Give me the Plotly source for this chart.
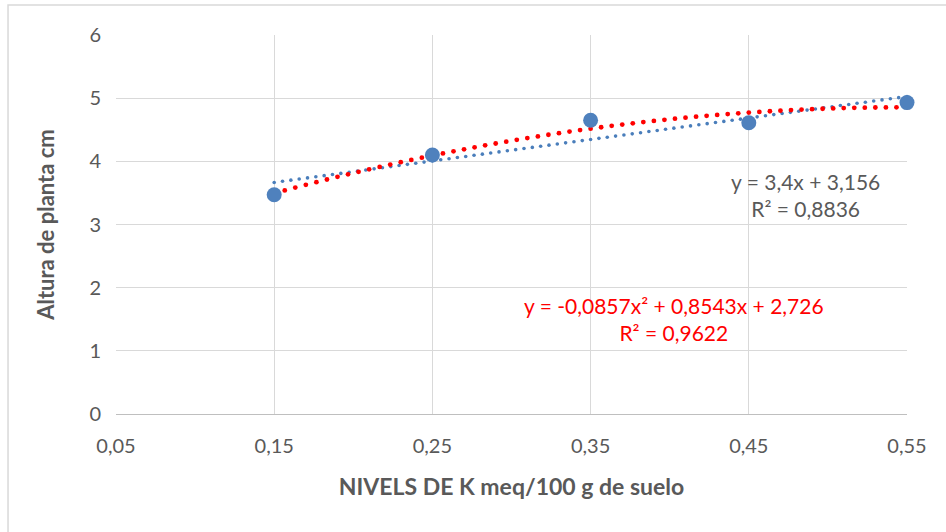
import numpy as np
import plotly.graph_objects as go

# Data
niveles_k = [0.15, 0.25, 0.35, 0.45, 0.55]
altura = [3.47, 4.10, 4.65, 4.61, 4.93]

x_ticks = [0.05, 0.15, 0.25, 0.35, 0.45, 0.55]
x_tick_labels = ["0,05", "0,15", "0,25", "0,35", "0,45", "0,55"]
y_ticks = [0, 1, 2, 3, 4, 5, 6]

# Trend-line coefficients as printed on the chart
lin_coef = [3.4, 3.156]                 # y = a*x + b (x in K levels)
poly_coef = [-0.0857, 0.8543, 2.726]    # y = a*n^2 + b*n + c (n = point index 1..5)

lin_text = "y = 3,4x + 3,156<br>R² = 0,8836"
poly_text = "y = -0,0857x² + 0,8543x + 2,726<br>R² = 0,9622"

FONT = "Lato"
GRAY = "#595959"

# dotted trend lines drawn as small round dots along the fitted equations
xs_lin = np.linspace(niveles_k[0], niveles_k[-1], 77)
lin_y = lin_coef[0] * xs_lin + lin_coef[1]
xs_poly = np.linspace(niveles_k[0], niveles_k[-1], 61)
n = 1 + (xs_poly - niveles_k[0]) / (niveles_k[1] - niveles_k[0])
poly_y = poly_coef[0] * n ** 2 + poly_coef[1] * n + poly_coef[2]

fig = go.Figure()
fig.add_trace(go.Scatter(x=xs_lin, y=lin_y, mode="markers",
                         marker=dict(color="#4a7ebb", size=3.6, line=dict(width=0)),
                         hoverinfo="skip", showlegend=False, cliponaxis=False))
fig.add_trace(go.Scatter(x=xs_poly, y=poly_y, mode="markers",
                         marker=dict(color="#ff0000", size=4.8, line=dict(width=0)),
                         hoverinfo="skip", showlegend=False, cliponaxis=False))
fig.add_trace(go.Scatter(x=niveles_k, y=altura, mode="markers",
                         marker=dict(color="#4f81bd", size=15, line=dict(width=0)),
                         showlegend=False, cliponaxis=False))

fig.add_annotation(x=0.486, y=3.47, xref="x", yref="y", text=lin_text,
                   showarrow=False, align="center",
                   font=dict(family=FONT, size=21, color=GRAY))
fig.add_annotation(x=0.4025, y=1.5, xref="x", yref="y", text=poly_text,
                   showarrow=False, align="center",
                   font=dict(family=FONT, size=21, color="#ff0000"))

# outer chart border (only top and left edges fall inside the picture)
fig.add_shape(type="rect", xref="paper", yref="paper",
              x0=-0.1365, x1=1.2, y0=-0.6, y1=1.079,
              line=dict(color="#d9d9d9", width=1.5))

fig.update_layout(
    width=946, height=532,
    margin=dict(l=116, r=39, t=35, b=118),
    paper_bgcolor="white", plot_bgcolor="white",
    font=dict(family=FONT, color=GRAY),
    xaxis=dict(range=[0.05, 0.55], tickvals=x_ticks, ticktext=x_tick_labels,
               showgrid=True, gridcolor="#d9d9d9", gridwidth=1.3,
               zeroline=False, showline=True, linecolor="#bfbfbf", linewidth=1.3,
               tickfont=dict(size=20, color=GRAY), ticks="",
               ticklabelstandoff=14,
               title=dict(text="<b>NIVELS DE K meq/100 g de suelo</b>",
                          font=dict(size=23, color=GRAY), standoff=22)),
    yaxis=dict(range=[0, 6], tickvals=y_ticks,
               showgrid=True, gridcolor="#d9d9d9", gridwidth=1.3,
               zeroline=False, showline=False,
               tickfont=dict(size=20, color=GRAY), ticks="",
               ticklabelstandoff=14,
               title=dict(text="<b>Altura de planta cm</b>",
                          font=dict(size=22, color=GRAY), standoff=28)),
)

fig.write_html("out.html")
